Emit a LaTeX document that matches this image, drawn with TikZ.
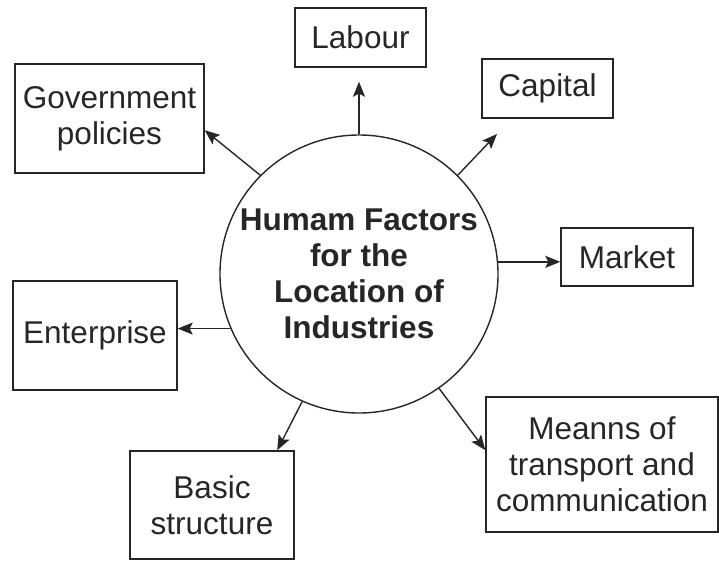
\documentclass[tikz,border=0pt]{standalone}
\usepackage{fontspec}
\setmainfont{Liberation Sans}
\usetikzlibrary{arrows.meta}
\begin{document}
\begin{tikzpicture}[x=1pt,y=-1pt,
    box/.style={draw=black!85, text=black!85, line width=1.4pt, inner sep=0pt,
        align=center, font=\fontsize{31.5}{36}\selectfont},
    link/.style={draw=black!85, line width=1.4pt,
        -{Stealth[length=15pt,width=12pt,inset=3pt]}}]
    \useasboundingbox (0,0) rectangle (719,561);

    % Centre circle
    \node[circle, draw=black!85, text=black!85, line width=1.4pt, minimum size=278pt,
          inner sep=0pt, align=center, font=\fontsize{31.5}{36}\selectfont\bfseries]
          (hub) at (359,274) {Humam Factors\\for the\\Location of\\Industries};

    % Factor boxes
    \node[box, minimum width=131pt, minimum height=59pt] (labour) at (360.5,37.5) {Labour};
    \node[box, minimum width=131pt, minimum height=59pt] (capital) at (547.5,88.5) {Capital};
    \node[box, minimum width=189pt, minimum height=109pt] (gov) at (109.5,118.5) {Government\\policies};
    \node[box, minimum width=132pt, minimum height=58pt] (market) at (627,257) {Market};
    \node[box, minimum width=164pt, minimum height=109pt] (ent) at (95,335.5) {Enterprise};
    \node[box, minimum width=164pt, minimum height=108pt] (basic) at (212,505) {Basic\\structure};
    \node[box, minimum width=232pt, minimum height=135pt] (means) at (602,464.5) {Meanns of\\transport and\\communication};

    % Arrows out of the circle
    \draw[link, shorten >=14pt] (hub.90) -- (hub.90 |- labour.south);
    \draw[link, shorten >=21pt] (hub.45) -- (capital.220);
    \draw[link] (hub.135) -- (gov.-7);
    \draw[link] (hub.5) -- (hub.5 -| market.west);
    \draw[link] (hub.203) -- (hub.203 -| ent.east);
    \draw[link] (hub.246) -- (basic.40);
    \draw[link] (hub.305) -- (means.173);
\end{tikzpicture}
\end{document}
